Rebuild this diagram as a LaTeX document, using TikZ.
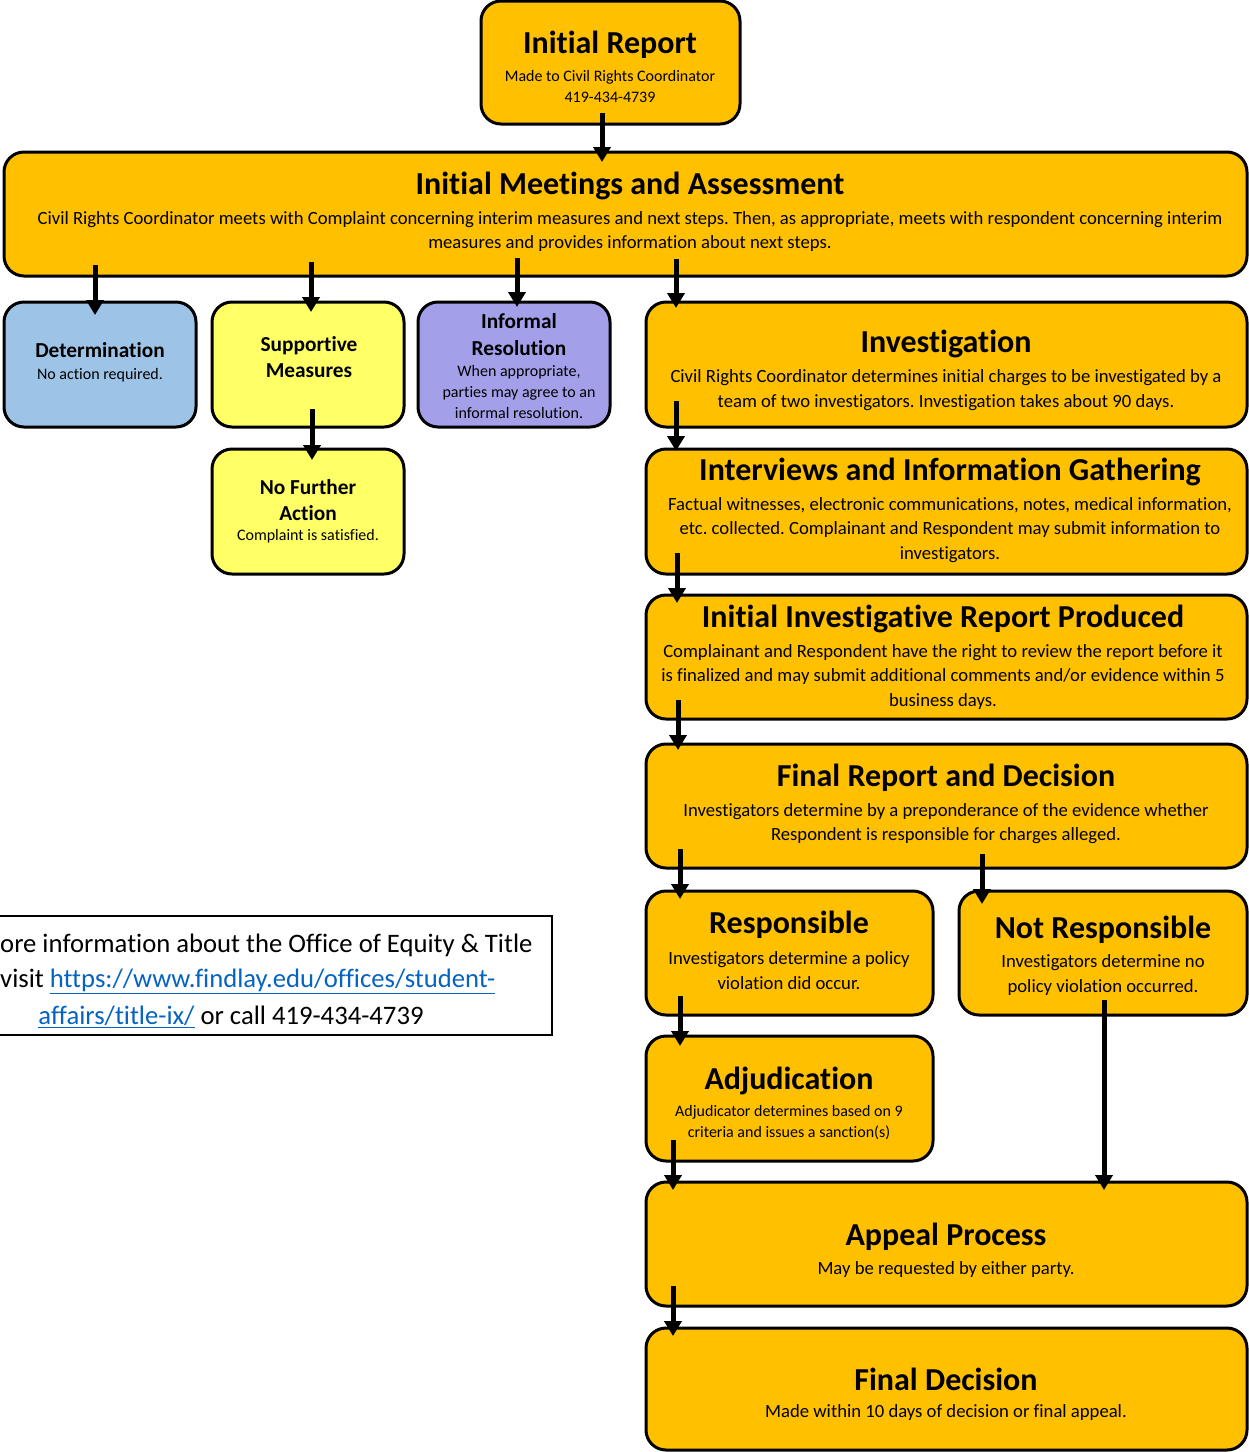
\documentclass[tikz,border=0pt]{standalone}
\usepackage{fontspec}
\setmainfont{Carlito}[Ligatures=NoCommon]
\usetikzlibrary{arrows.meta,calc}
\definecolor{orng}{HTML}{FFC000}
\definecolor{lblue}{HTML}{9DC3E6}
\definecolor{lyel}{HTML}{FFFF66}
\definecolor{lpur}{HTML}{A3A0E9}
\definecolor{lnk}{HTML}{0563C1}
\newcommand\ttlf{\fontsize{32}{36}\selectfont\bfseries}
\newcommand\midf{\fontsize{21.33}{26.5}\selectfont\bfseries}
\newcommand\bdyf{\fontsize{18.67}{24.5}\selectfont}
\newcommand\smlf{\fontsize{16}{21}\selectfont}
\newcommand\infof{\fontsize{26.67}{35}\selectfont}
\frenchspacing
\begin{document}
\begin{tikzpicture}[x=1pt,y=-1pt,
  box/.style={draw=black,line width=3pt,rounded corners=20pt,inner sep=0pt,outer sep=0pt},
  txt/.style={inner sep=0pt,align=center,yshift=-2.5pt},
  arr/.style={line width=5pt,-{Triangle[length=15pt,width=17pt]}}]
\useasboundingbox (0,0) rectangle (1249,1452);
\begin{scope}
\clip (0,0) rectangle (1249,1452);
% boxes
\node[box,fill=orng,minimum width=259pt,minimum height=123pt] (irep) at (610.5,62.5) {};
\node[box,fill=orng,minimum width=1243pt,minimum height=124pt] (meet) at (625.5,214) {};
\node[box,fill=lblue,minimum width=192pt,minimum height=125pt] (det) at (100,364.5) {};
\node[box,fill=lyel,minimum width=192pt,minimum height=125pt] (sup) at (308,364.5) {};
\node[box,fill=lpur,minimum width=192pt,minimum height=125pt] (inf) at (514,364.5) {};
\node[box,fill=lyel,minimum width=192pt,minimum height=125pt] (nfa) at (308,511.5) {};
\node[box,fill=orng,minimum width=601pt,minimum height=125pt] (inv) at (946.5,364.5) {};
\node[box,fill=orng,minimum width=601pt,minimum height=125pt] (intv) at (946.5,511.5) {};
\node[box,fill=orng,minimum width=601pt,minimum height=124pt] (iir) at (946.5,657) {};
\node[box,fill=orng,minimum width=601pt,minimum height=124pt] (frd) at (946.5,806) {};
\node[box,fill=orng,minimum width=287pt,minimum height=124pt] (resp) at (789.5,953) {};
\node[box,fill=orng,minimum width=288pt,minimum height=124pt] (nresp) at (1103,953) {};
\node[box,fill=orng,minimum width=287pt,minimum height=125pt] (adj) at (789.5,1098.5) {};
\node[box,fill=orng,minimum width=601pt,minimum height=124pt] (app) at (946.5,1244) {};
\node[box,fill=orng,minimum width=601pt,minimum height=122pt] (fdec) at (946.5,1389) {};
% info box
\draw[line width=1.2pt] (-10,916) rectangle (552,1035);
\end{scope}
% texts
\node[txt,font=\ttlf] (irept) at (610,42) {Initial Report};
\node[txt,font=\smlf] (irepb) at (610,83.5) {Made to Civil Rights Coordinator\\419-434-4739};
\node[txt,font=\ttlf] (meett) at (630,183) {Initial Meetings and Assessment};
\node[txt,font=\bdyf] (meetb) at (630,229) {Civil Rights Coordinator meets with Complaint concerning interim measures and next steps. Then, as appropriate, meets with respondent concerning interim\\measures and provides information about next steps.};
\node[txt,font=\midf] (dett) at (100,348) {Determination};
\node[txt,font=\smlf] (detb) at (100,373) {No action required.};
\node[txt,font=\midf] (supt) at (309,354.5) {Supportive\\Measures};
\node[txt,font=\midf] (inft) at (519,332) {Informal\\Resolution};
\node[txt,font=\smlf] (infb) at (519,389) {When appropriate,\\parties may agree to an\\informal resolution.};
\node[txt,font=\midf] (nfat) at (308,497.5) {No Further\\Action};
\node[txt,font=\smlf] (nfab) at (308,534) {Complaint is satisfied.};
\node[txt,font=\ttlf] (invt) at (946,341) {Investigation};
\node[txt,font=\bdyf] (invb) at (946,387.5) {Civil Rights Coordinator determines initial charges to be investigated by a\\team of two investigators. Investigation takes about 90 days.};
\node[txt,font=\ttlf] (intvt) at (950,469) {Interviews and Information Gathering};
\node[txt,font=\bdyf] (intvb) at (950,527.5) {Factual witnesses, electronic communications, notes, medical information,\\etc. collected. Complainant and Respondent may submit information to\\investigators.};
\node[txt,font=\ttlf] (iirt) at (943,616) {Initial Investigative Report Produced};
\node[txt,font=\bdyf] (iirb) at (943,674.5) {Complainant and Respondent have the right to review the report before it\\is finalized and may submit additional comments and/or evidence within 5\\business days.};
\node[txt,font=\ttlf] (frdt) at (946,775) {Final Report and Decision};
\node[txt,font=\bdyf] (frdb) at (946,821) {Investigators determine by a preponderance of the evidence whether\\Respondent is responsible for charges alleged.};
\node[txt,font=\ttlf] (respt) at (789,922) {Responsible};
\node[txt,font=\bdyf] (respb) at (789,968) {Investigators determine a policy\\violation did occur.};
\node[txt,font=\ttlf] (nrespt) at (1103,927) {Not Responsible};
\node[txt,font=\bdyf] (nrespb) at (1103,972.5) {Investigators determine no\\policy violation occurred.};
\node[txt,font=\ttlf] (adjt) at (789,1078) {Adjudication};
\node[txt,font=\smlf] (adjb) at (789,1120.5) {Adjudicator determines based on 9\\criteria and issues a sanction(s)};
\node[txt,font=\ttlf] (appt) at (946,1234) {Appeal Process};
\node[txt,font=\bdyf] (appb) at (946,1267) {May be requested by either party.};
\node[txt,font=\ttlf] (fdect) at (946,1377) {Final Decision};
\node[txt,font=\bdyf] (fdecb) at (946,1410) {Made within 10 days of decision or final appeal.};
\node[txt,font=\infof,anchor=west] (info1) at (0,943) {ore information about the Office of Equity \& Title};
\node[txt,font=\infof,anchor=west] (info2) at (0,979) {visit \textcolor{lnk}{\underline{https://www.findlay.edu/offices/student-}}};
\node[txt,font=\infof] (info3) at (231,1014) {\textcolor{lnk}{\underline{affairs/title-ix/}} or call 419-434-4739};
% arrows
\draw[arr] ($(irep.south -| 602,0)+(0,-11)$) -- ($(meet.north -| 602,0)+(0,10)$);
\draw[arr] ($(meet.south -| 95,0)+(0,-11)$) -- ($(det.north -| 95,0)+(0,13)$);
\draw[arr] ($(meet.south -| 311,0)+(0,-14)$) -- ($(sup.north -| 311,0)+(0,10)$);
\draw[arr] ($(meet.south -| 517,0)+(0,-18)$) -- ($(inf.north -| 517,0)+(0,5)$);
\draw[arr] ($(meet.south -| 676,0)+(0,-17)$) -- ($(inv.north -| 676,0)+(0,6)$);
\draw[arr] ($(sup.south -| 312,0)+(0,-18)$) -- ($(nfa.north -| 312,0)+(0,11)$);
\draw[arr] ($(inv.south -| 676,0)+(0,-26)$) -- ($(intv.north -| 676,0)+(0,2)$);
\draw[arr] ($(intv.south -| 677,0)+(0,-21)$) -- ($(iir.north -| 677,0)+(0,8)$);
\draw[arr] ($(iir.south -| 678,0)+(0,-19)$) -- ($(frd.north -| 678,0)+(0,6)$);
\draw[arr] ($(frd.south -| 680,0)+(0,-19)$) -- ($(resp.north -| 680,0)+(0,8)$);
\draw[arr] ($(frd.south -| 982,0)+(0,-14)$) -- ($(nresp.north -| 982,0)+(0,13)$);
\draw[arr] ($(resp.south -| 680,0)+(0,-19)$) -- ($(adj.north -| 680,0)+(0,10)$);
\draw[arr] ($(nresp.south -| 1104,0)+(0,-15)$) -- ($(app.north -| 1104,0)+(0,8)$);
\draw[arr] ($(adj.south -| 673,0)+(0,-21)$) -- ($(app.north -| 673,0)+(0,8)$);
\draw[arr] ($(app.south -| 673,0)+(0,-20)$) -- ($(fdec.north -| 673,0)+(0,8)$);
\end{tikzpicture}
\end{document}
